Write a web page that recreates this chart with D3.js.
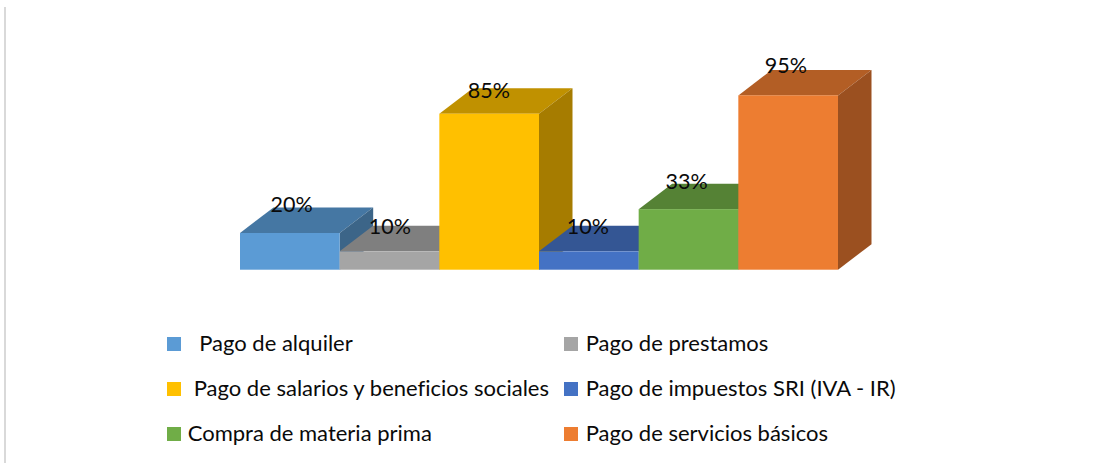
<!DOCTYPE html>
<html>
<head>
<meta charset="utf-8">
<style>
html,body{margin:0;padding:0;background:#fff;overflow:hidden}
svg{display:block}
text{font-family:Lato,"Open Sans",sans-serif;fill:#0a0a0a;font-variant-ligatures:none}
</style>
<script src="https://cdn.jsdelivr.net/npm/d3@7/dist/d3.min.js"></script>
</head>
<body>
<svg id="chart" width="1097" height="463"></svg>
<script>
const categories = ["Pago de alquiler","Pago de prestamos","Pago de salarios y beneficios sociales","Pago de impuestos SRI (IVA - IR)","Compra de materia prima","Pago de servicios básicos"];
const values = [20,10,85,10,33,95];
const valueLabels = ["20%","10%","85%","10%","33%","95%"];
const frontColors = ["#5B9BD5","#A5A5A5","#FFC000","#4472C4","#70AD47","#ED7D31"];
const topColors = ["#4577A3","#7F7F7F","#C09100","#345694","#558235","#B35E25"];
const sideColors = ["#3C6588","#6C6C6C","#A67C00","#2E4A80","#4A702E","#9B5020"];
const labelNudgeX = [1.7,0.4,-0.3,-1,-1.9,-2.3];
const labelNudgeY = [-2,2,3,2,-1,-3];
const legendIndent = [11.5,0,6,0,0,0];

const svg = d3.select("#chart");
svg.append("line").attr("x1",5).attr("x2",5).attr("y1",7).attr("y2",463)
  .attr("stroke","#d9d9d9").attr("stroke-width",2);

const x = d3.scaleBand().domain(categories).range([240,838]);
const y = d3.scaleLinear().domain([0,100]).range([269.7,86.2]);
const dx = 33.5, dy = 25.5;

const bars = categories.map((c,i)=>({c,i,v:values[i]}));
const g = svg.append("g");
const poly = pts => pts.map(p=>p.join(",")).join(" ");
const bar = g.selectAll("g.bar").data(bars).join("g").attr("class","bar");
bar.append("polygon").attr("fill",d=>topColors[d.i]).attr("points",d=>{
  const l=x(d.c), r=l+x.bandwidth(), t=y(d.v);
  return poly([[l,t],[l+dx,t-dy],[r+dx,t-dy],[r,t]]);
});
bar.append("polygon").attr("fill",d=>sideColors[d.i]).attr("points",d=>{
  const r=x(d.c)+x.bandwidth(), t=y(d.v), b=y(0);
  return poly([[r,t],[r+dx,t-dy],[r+dx,b-dy],[r,b]]);
});
bar.append("rect").attr("fill",d=>frontColors[d.i])
  .attr("x",d=>x(d.c)).attr("width",x.bandwidth())
  .attr("y",d=>y(d.v)).attr("height",d=>y(0)-y(d.v));

svg.append("g").selectAll("text").data(bars).join("text")
  .attr("text-anchor","middle").attr("font-size",21.5)
  .attr("x",d=>x(d.c)+x.bandwidth()/2+labelNudgeX[d.i])
  .attr("y",d=>y(d.v)-19+labelNudgeY[d.i])
  .text(d=>valueLabels[d.i]);

const legendCol = d3.scaleOrdinal().domain([0,1]).range([167,564]);
const legendRow = d3.scalePoint().domain([0,1,2]).range([344,434]);
const item = svg.append("g").selectAll("g").data(bars).join("g")
  .attr("transform",d=>`translate(${legendCol(d.i%2)},${legendRow(Math.floor(d.i/2))})`);
item.append("rect").attr("x",0).attr("y",-7).attr("width",14).attr("height",14)
  .attr("fill",d=>frontColors[d.i]);
item.append("text").attr("font-size",22).attr("y",6.7)
  .attr("x",d=>(d.i%2?21.7:20.7)+legendIndent[d.i])
  .text(d=>d.c);
</script>
</body>
</html>
